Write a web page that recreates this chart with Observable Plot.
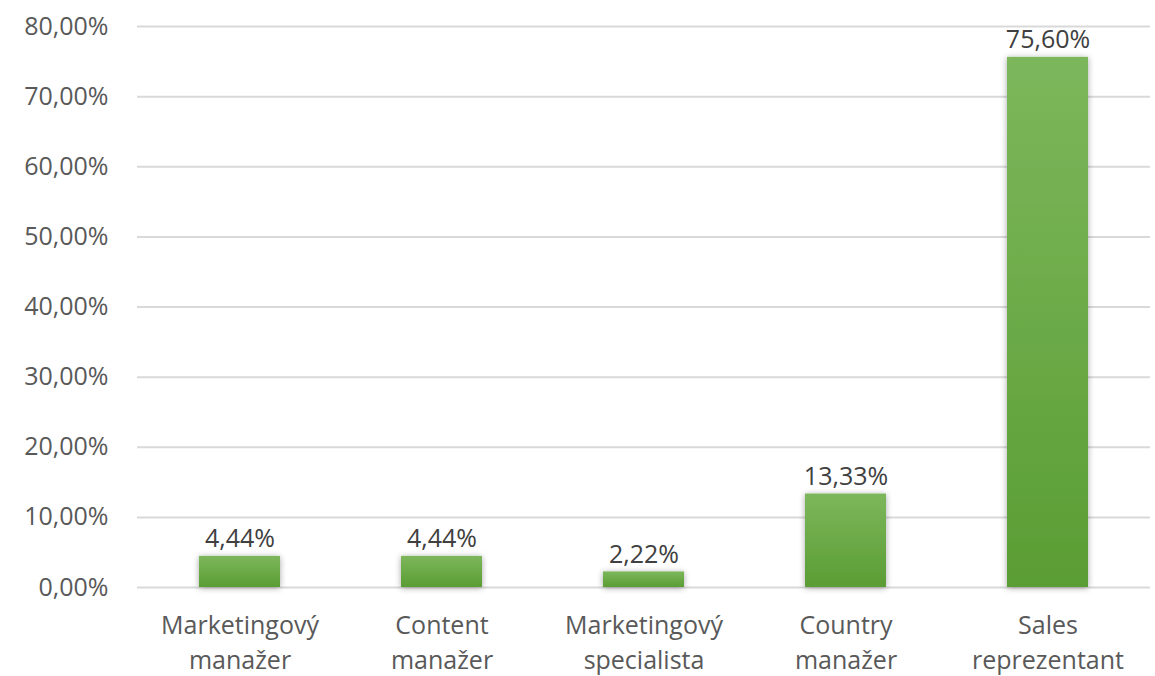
<!DOCTYPE html>
<html>
<head>
<meta charset="utf-8">
<script src="https://cdn.jsdelivr.net/npm/d3@7"></script>
<script src="https://cdn.jsdelivr.net/npm/@observablehq/plot@0.6"></script>
<style>
  html, body { margin: 0; padding: 0; background: #fff; }
  #chart svg { display: block; }
</style>
</head>
<body>
<div id="chart"></div>
<script>
const categories = ["Marketingový\nmanažer", "Content\nmanažer", "Marketingový\nspecialista", "Country\nmanažer", "Sales\nreprezentant"];
const values = [0.0444, 0.0444, 0.0222, 0.1333, 0.7560];
const yTicks = [0, 0.1, 0.2, 0.3, 0.4, 0.5, 0.6, 0.7, 0.8];

const data = categories.map((c, i) => ({category: c, value: values[i]}));
const pct = d => (d * 100).toFixed(2).replace(".", ",") + "%";
const FONT = "'Open Sans', sans-serif";

const plot = Plot.plot({
  width: 1155,
  height: 676,
  marginLeft: 137,
  marginRight: 5,
  marginTop: 26,
  marginBottom: 89,
  style: {fontFamily: FONT, background: "#fff"},
  x: {domain: categories, paddingInner: 0.6, paddingOuter: 0.3, axis: null},
  y: {domain: [0, 0.8], axis: null},
  marks: [
    Plot.ruleY(yTicks, {stroke: "#d9d9d9", strokeWidth: 2}),
    Plot.barY(data, {x: "category", y: "value", fill: "url(#barGrad)", className: "bars"}),
    Plot.text(yTicks, {y: d => d, text: pct, frameAnchor: "left", textAnchor: "end", dx: -29, fontSize: 25, fill: "#595959"}),
    Plot.text(data, {x: "category", y: "value", text: d => pct(d.value), lineAnchor: "bottom", dy: -9, fontSize: 25, fill: "#404040"}),
    Plot.text(data, {x: "category", y: () => 0, text: "category", lineAnchor: "top", dy: 22, lineHeight: 1.4, fontSize: 25, fill: "#595959"})
  ]
});

const svg = d3.select(plot);
const defs = svg.insert("defs", ":first-child");
const g = defs.append("linearGradient").attr("id", "barGrad").attr("x1", 0).attr("y1", 0).attr("x2", 0).attr("y2", 1);
g.append("stop").attr("offset", "0%").attr("stop-color", "#7db75c");
g.append("stop").attr("offset", "100%").attr("stop-color", "#5a9d33");
const f = defs.append("filter").attr("id", "barShadow").attr("x", "-20%").attr("y", "-20%").attr("width", "140%").attr("height", "140%");
f.append("feDropShadow").attr("dx", 0).attr("dy", 1).attr("stdDeviation", 3).attr("flood-color", "#000").attr("flood-opacity", 0.35);
svg.selectAll("g.bars").attr("filter", "url(#barShadow)");

document.getElementById("chart").appendChild(plot);
</script>
</body>
</html>
